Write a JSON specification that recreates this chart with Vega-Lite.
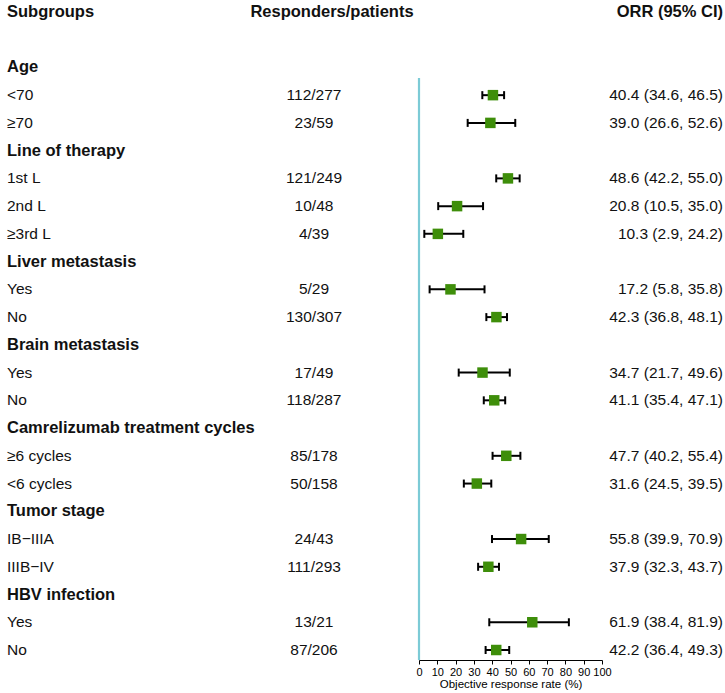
{
  "$schema": "https://vega.github.io/schema/vega-lite/v6.json",
  "padding": {"left": 7, "right": 2, "top": 0, "bottom": 0},
  "spacing": 0,
  "bounds": "flush",
  "config": {
    "view": {"stroke": null},
    "font": "Liberation Sans",
    "text": {"font": "Liberation Sans", "color": "#111111"},
    "axis": {"labelOverlap": false, "labelFlush": false, "labelBound": false},
    "axisX": {"labelOverlap": false, "labelFlush": false, "tickCount": 11}
  },
  "datasets": {
    "rows": [
      {"row": 0, "kind": "header", "label": "Subgroups", "resp": "Responders/patients", "ci": "ORR (95% CI)"},
      {"row": 2, "kind": "group", "label": "Age"},
      {"row": 3, "kind": "item", "label": "<70", "resp": "112/277", "orr": 40.4, "lo": 34.6, "hi": 46.5, "ci": "40.4 (34.6, 46.5)"},
      {"row": 4, "kind": "item", "label": "≥70", "resp": "23/59", "orr": 39.0, "lo": 26.6, "hi": 52.6, "ci": "39.0 (26.6, 52.6)"},
      {"row": 5, "kind": "group", "label": "Line of therapy"},
      {"row": 6, "kind": "item", "label": "1st L", "resp": "121/249", "orr": 48.6, "lo": 42.2, "hi": 55.0, "ci": "48.6 (42.2, 55.0)"},
      {"row": 7, "kind": "item", "label": "2nd L", "resp": "10/48", "orr": 20.8, "lo": 10.5, "hi": 35.0, "ci": "20.8 (10.5, 35.0)"},
      {"row": 8, "kind": "item", "label": "≥3rd L", "resp": "4/39", "orr": 10.3, "lo": 2.9, "hi": 24.2, "ci": "10.3 (2.9, 24.2)"},
      {"row": 9, "kind": "group", "label": "Liver metastasis"},
      {"row": 10, "kind": "item", "label": "Yes", "resp": "5/29", "orr": 17.2, "lo": 5.8, "hi": 35.8, "ci": "17.2 (5.8, 35.8)"},
      {"row": 11, "kind": "item", "label": "No", "resp": "130/307", "orr": 42.3, "lo": 36.8, "hi": 48.1, "ci": "42.3 (36.8, 48.1)"},
      {"row": 12, "kind": "group", "label": "Brain metastasis"},
      {"row": 13, "kind": "item", "label": "Yes", "resp": "17/49", "orr": 34.7, "lo": 21.7, "hi": 49.6, "ci": "34.7 (21.7, 49.6)"},
      {"row": 14, "kind": "item", "label": "No", "resp": "118/287", "orr": 41.1, "lo": 35.4, "hi": 47.1, "ci": "41.1 (35.4, 47.1)"},
      {"row": 15, "kind": "group", "label": "Camrelizumab treatment cycles"},
      {"row": 16, "kind": "item", "label": "≥6 cycles", "resp": "85/178", "orr": 47.7, "lo": 40.2, "hi": 55.4, "ci": "47.7 (40.2, 55.4)"},
      {"row": 17, "kind": "item", "label": "<6 cycles", "resp": "50/158", "orr": 31.6, "lo": 24.5, "hi": 39.5, "ci": "31.6 (24.5, 39.5)"},
      {"row": 18, "kind": "group", "label": "Tumor stage"},
      {"row": 19, "kind": "item", "label": "IB−IIIA", "resp": "24/43", "orr": 55.8, "lo": 39.9, "hi": 70.9, "ci": "55.8 (39.9, 70.9)"},
      {"row": 20, "kind": "item", "label": "IIIB−IV", "resp": "111/293", "orr": 37.9, "lo": 32.3, "hi": 43.7, "ci": "37.9 (32.3, 43.7)"},
      {"row": 21, "kind": "group", "label": "HBV infection"},
      {"row": 22, "kind": "item", "label": "Yes", "resp": "13/21", "orr": 61.9, "lo": 38.4, "hi": 81.9, "ci": "61.9 (38.4, 81.9)"},
      {"row": 23, "kind": "item", "label": "No", "resp": "87/206", "orr": 42.2, "lo": 36.4, "hi": 49.3, "ci": "42.2 (36.4, 49.3)"}
    ]
  },
  "data": {"name": "rows"},
  "hconcat": [
    {
      "width": 238,
      "height": 660,
      "layer": [
        {
          "transform": [{"filter": "datum.kind !== 'item'"}],
          "mark": {"type": "text", "align": "left", "baseline": "middle", "fontWeight": "bold", "fontSize": 16.5},
          "encoding": {
            "x": {"value": 0},
            "y": {"field": "row", "type": "quantitative", "scale": {"domain": [-0.43, 23.36], "reverse": true, "nice": false, "zero": false}, "axis": null},
            "text": {"field": "label"}
          }
        },
        {
          "transform": [{"filter": "datum.kind === 'item'"}],
          "mark": {"type": "text", "align": "left", "baseline": "middle", "fontSize": 15.5},
          "encoding": {
            "x": {"value": 0},
            "y": {"field": "row", "type": "quantitative", "scale": {"domain": [-0.43, 23.36], "reverse": true, "nice": false, "zero": false}, "axis": null},
            "text": {"field": "label"}
          }
        }
      ]
    },
    {
      "width": 174,
      "height": 660,
      "layer": [
        {
          "transform": [{"filter": "datum.kind === 'header'"}],
          "mark": {"type": "text", "align": "center", "baseline": "middle", "fontWeight": "bold", "fontSize": 16.5},
          "encoding": {
            "x": {"value": 87},
            "y": {"field": "row", "type": "quantitative", "scale": {"domain": [-0.43, 23.36], "reverse": true, "nice": false, "zero": false}, "axis": null},
            "text": {"field": "resp"}
          }
        },
        {
          "transform": [{"filter": "datum.kind === 'item'"}],
          "mark": {"type": "text", "align": "center", "baseline": "middle", "fontSize": 15.5},
          "encoding": {
            "x": {"value": 69},
            "y": {"field": "row", "type": "quantitative", "scale": {"domain": [-0.43, 23.36], "reverse": true, "nice": false, "zero": false}, "axis": null},
            "text": {"field": "resp"}
          }
        }
      ]
    },
    {
      "width": 183,
      "height": 660,
      "encoding": {
        "y": {"field": "row", "type": "quantitative", "scale": {"domain": [-0.43, 23.36], "reverse": true, "nice": false, "zero": false}, "axis": null}
      },
      "layer": [
        {
          "transform": [{"filter": "datum.kind === 'item'"}],
          "mark": {"type": "rule", "color": "#000000", "strokeWidth": 2},
          "encoding": {
            "x": {"field": "lo", "type": "quantitative", "scale": {"domain": [0, 100], "nice": false, "zero": false},
                  "axis": {"values": [0, 10, 20, 30, 40, 50, 60, 70, 80, 90, 100], "tickCount": 11, "title": "Objective response rate (%)",
                           "grid": false, "domainColor": "#000000", "tickColor": "#000000", "labelColor": "#000000", "titleColor": "#000000",
                           "labelFontSize": 11, "titleFontSize": 11.5, "titleFontWeight": "normal", "tickSize": 4, "labelPadding": 2, "titlePadding": 1,
                           "labelFont": "Liberation Sans", "titleFont": "Liberation Sans", "labelFlush": false, "labelOverlap": false, "labelSeparation": 0}},
            "x2": {"field": "hi"}
          }
        },
        {
          "transform": [{"filter": "datum.kind === 'item'"}],
          "mark": {"type": "tick", "orient": "vertical", "color": "#000000", "size": 8, "thickness": 2, "opacity": 1},
          "encoding": {
            "x": {"field": "lo", "type": "quantitative"}
          }
        },
        {
          "transform": [{"filter": "datum.kind === 'item'"}],
          "mark": {"type": "tick", "orient": "vertical", "color": "#000000", "size": 8, "thickness": 2, "opacity": 1},
          "encoding": {
            "x": {"field": "hi", "type": "quantitative"}
          }
        },
        {
          "transform": [{"filter": "datum.kind === 'item'"}],
          "mark": {"type": "point", "shape": "square", "filled": true, "color": "#3e8e0a", "size": 110, "opacity": 1},
          "encoding": {
            "x": {"field": "orr", "type": "quantitative"}
          }
        },
        {
          "data": {"values": [{"ref": 0, "top": 2.38, "bottom": 23.36}]},
          "mark": {"type": "rule", "color": "#7ccbd6", "strokeWidth": 2.2},
          "encoding": {
            "x": {"field": "ref", "type": "quantitative"},
            "y": {"field": "top", "type": "quantitative"},
            "y2": {"field": "bottom"}
          }
        }
      ]
    },
    {
      "width": 121,
      "height": 660,
      "layer": [
        {
          "transform": [{"filter": "datum.kind === 'header'"}],
          "mark": {"type": "text", "align": "right", "baseline": "middle", "fontWeight": "bold", "fontSize": 16.5},
          "encoding": {
            "x": {"value": "width"},
            "y": {"field": "row", "type": "quantitative", "scale": {"domain": [-0.43, 23.36], "reverse": true, "nice": false, "zero": false}, "axis": null},
            "text": {"field": "ci"}
          }
        },
        {
          "transform": [{"filter": "datum.kind === 'item'"}],
          "mark": {"type": "text", "align": "right", "baseline": "middle", "fontSize": 15.5},
          "encoding": {
            "x": {"value": "width"},
            "y": {"field": "row", "type": "quantitative", "scale": {"domain": [-0.43, 23.36], "reverse": true, "nice": false, "zero": false}, "axis": null},
            "text": {"field": "ci"}
          }
        }
      ]
    }
  ]
}
